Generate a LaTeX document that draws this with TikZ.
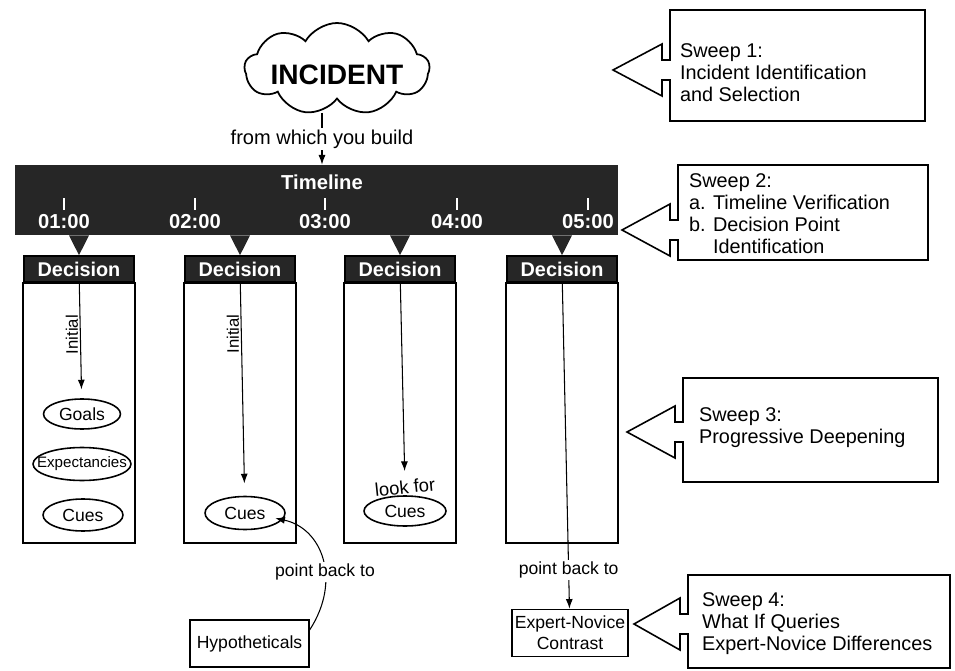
\documentclass[tikz,border=0pt]{standalone}
\usepackage{fontspec}
\setmainfont{Liberation Sans}
\usetikzlibrary{shapes.symbols,shapes.geometric,arrows.meta,calc}
\newcommand{\sweepshape}[6]{%
  \draw[sweepline] (#1,#2) -- (#1,{#6-10}) -- ({#1-8},{#6-10}) -- ({#1-8},{#6-26}) -- (#5,#6)
    -- ({#1-8},{#6+26}) -- ({#1-8},{#6+10}) -- (#1,{#6+10}) -- (#1,#4) -- (#3,#4) -- (#3,#2) -- cycle;}
\newcommand{\ztext}[1]{\makebox[0pt]{#1}}
\begin{document}
\begin{tikzpicture}[x=0.02cm,y=-0.02cm,
  every node/.style={font=\fontsize{10}{12}\selectfont, inner sep=1pt},
  arr/.style={-{Latex[length=5.5pt,width=4pt]}, line width=0.6pt},
  boxline/.style={line width=0.9pt},
  dark/.style={fill=black!85},
  hdr/.style={dark, draw=black, line width=0.9pt, minimum width=2.2cm, minimum height=0.52cm,
    inner sep=0pt, text=white, font=\bfseries\fontsize{11.3}{13}\selectfont},
  tlabel/.style={text=white, font=\bfseries\fontsize{11.5}{13}\selectfont},
  tick/.style={white, line width=0.8pt},
  oval/.style={ellipse, draw, line width=0.9pt, inner sep=0pt},
  sweeptext/.style={align=left, anchor=west, font=\fontsize{11.3}{12.5}\selectfont},
  sweepline/.style={line width=0.9pt, line join=miter},
  plainbox/.style={draw, line width=0.9pt, inner sep=0pt, align=center}
]
\useasboundingbox (0,0) rectangle (955,671);

% incident cloud
\node[cloud, draw, line width=1pt, cloud puffs=9, cloud puff arc=120, aspect=2,
  minimum width=3.7cm, minimum height=1.84cm, inner sep=0pt] (cloud) at (337,69) {};
\node[font=\bfseries\fontsize{16}{18}\selectfont] (incident) at (337,75) {INCIDENT};

% timeline bar
\node[dark, minimum width=12.06cm, minimum height=1.4cm, inner sep=0pt] (bar) at (316.5,200) {};
\node[tlabel] (tl) at (322,182) {Timeline};
\node[tlabel] (t1) at (64,222) {01:00};
\node[tlabel] (t2) at (195,222) {02:00};
\node[tlabel] (t3) at (325,222) {03:00};
\node[tlabel] (t4) at (457,222) {04:00};
\node[tlabel] (t5) at (588,222) {05:00};
\foreach \t in {t1,t2,t3,t4,t5}
  \draw[tick] ($(\t.north)+(0,-3)$) -- ++(0,-12);

\coordinate (cb) at (322,113);
\draw[arr] (cb) -- node[fill=white, font=\fontsize{11.4}{13}\selectfont] (fw) {from which you build} (cb |- bar.north);

% decision headers
\node[hdr] (h1) at (79,269) {Decision};
\node[hdr] (h2) at (240,269) {Decision};
\node[hdr] (h3) at (400,269) {Decision};
\node[hdr] (h4) at (562,269) {Decision};
\foreach \h in {h1,h2,h3,h4}{
  \fill[dark] ($(bar.south -| \h.north)+(-10,0)$) -- ($(bar.south -| \h.north)+(10,0)$) -- (\h.north) -- cycle;
  \draw[boxline] (\h.south west) rectangle ($(\h.south east)+(0,260)$);
}

% box 1
\node[oval, minimum width=1.54cm, minimum height=0.6cm] (goals) at (82,414) {\ztext{Goals}};
\node[oval, minimum width=1.96cm, minimum height=0.66cm, font=\fontsize{8.6}{10}\selectfont] (expect) at (82,464) {\ztext{Expectancies}};
\node[oval, minimum width=1.6cm, minimum height=0.64cm] (cues1) at (83,515) {\ztext{Cues}};
\draw[arr, shorten >=5pt] (h1) -- node[rotate=90, pos=0.45, anchor=south, font=\fontsize{9.5}{11}\selectfont] (init1) {Initial} (goals);

% box 2
\node[oval, minimum width=1.6cm, minimum height=0.66cm] (cues2) at (245,513) {\ztext{Cues}};
\draw[arr, shorten >=7pt] (h2) -- node[rotate=90, pos=0.24, anchor=south, font=\fontsize{9.5}{11}\selectfont] (init2) {Initial} (cues2);

% box 3
\node[oval, minimum width=1.64cm, minimum height=0.6cm] (cues3) at (405,511) {\ztext{Cues}};
\node[rotate=6, font=\fontsize{10.5}{12}\selectfont] (look) at (405,487) {look for};
\draw[arr, shorten >=4pt] (h3) -- (look);

% box 4
\node[plainbox, minimum width=2.32cm, minimum height=0.94cm] (expert) at (570,633) {Expert-Novice\\Contrast};
\draw[arr] (h4) -- node[pos=0.88, fill=white] (pb2) {point back to} (expert);

% hypotheticals
\node[plainbox, minimum width=2.38cm, minimum height=0.94cm] (hyp) at (249.5,643.5) {Hypotheticals};
\draw[arr] ([yshift=-6pt]hyp.north east) .. controls (342,580) and (322,528) ..
  node[pos=0.4, fill=white] (pb1) {point back to} ([xshift=-6pt,yshift=-3pt]cues2.east);

% sweep callouts
\sweepshape{670}{10}{925}{121}{613}{70}
\node[sweeptext] (s1) at (678,73) {Sweep 1:\\Incident Identification\\and Selection};
\sweepshape{678}{165}{928}{260}{622}{230}
\node[sweeptext] (s2) at (687,214) {Sweep 2:\\a. Timeline Verification\\b. Decision Point\\\phantom{b. }Identification};
\sweepshape{683}{378}{938}{482}{627}{432}
\node[sweeptext] (s3) at (697,428) {Sweep 3:\\Progressive Deepening};
\sweepshape{688}{575}{950}{668}{634}{624}
\node[sweeptext] (s4) at (700,624) {Sweep 4:\\What If Queries\\Expert-Novice Differences};
\end{tikzpicture}
\end{document}
